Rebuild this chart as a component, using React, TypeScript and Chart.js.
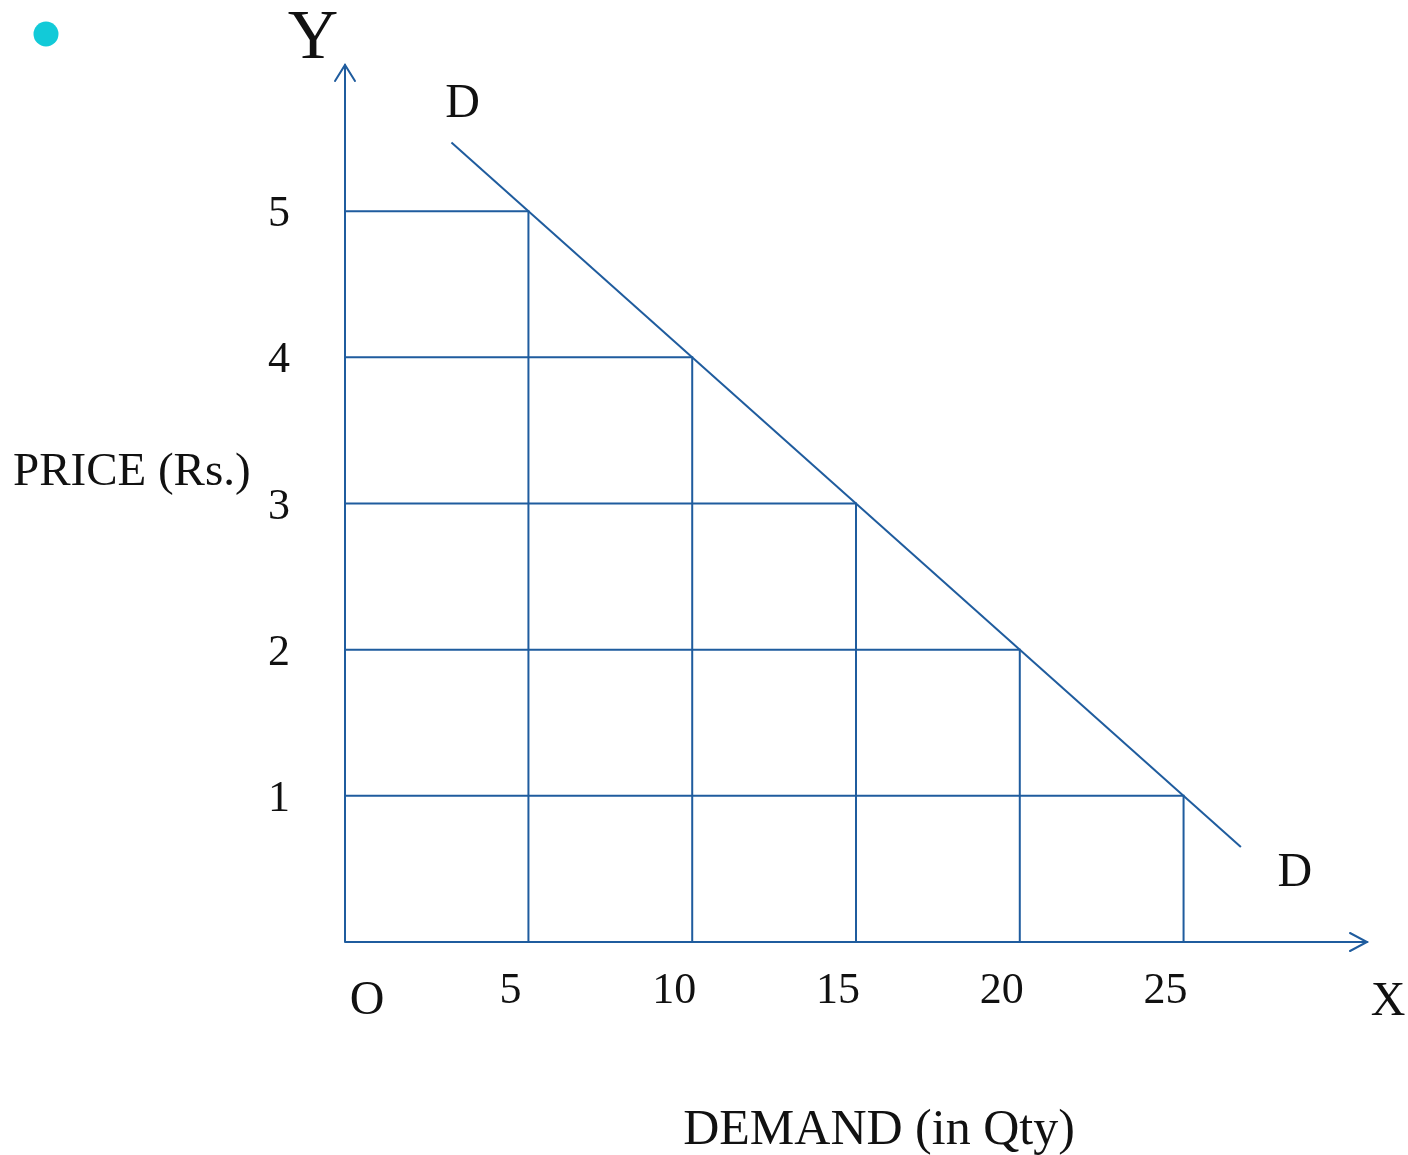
import React, { useEffect, useRef } from 'react';
import { Chart, registerables } from 'chart.js';

Chart.register(...registerables);

// Demand schedule (quantity demanded at each price)
const quantities = [5, 10, 15, 20, 25];
const prices = [5, 4, 3, 2, 1];
// Ends of the drawn demand curve D–D
const demandLineQty = [2.65, 26.75];
const demandLinePrice = [5.47, 0.65];
// Tick labels
const xTickValues = [5, 10, 15, 20, 25];
const xTickLabels = ['5', '10', '15', '20', '25'];
const yTickValues = [5, 4, 3, 2, 1];
const yTickLabels = ['5', '4', '3', '2', '1'];

const X_MIN = -0.6;
const X_MAX = 30.6;
const Y_MIN = 0;
const Y_MAX = 6;

const LINE = '#1f5c9e';
const FONT = '"Liberation Serif", "Times New Roman", serif';

const decorPlugin = {
  id: 'decor',
  beforeDraw(chart: any) {
    const { ctx, width, height } = chart;
    ctx.save();
    ctx.fillStyle = '#ffffff';
    ctx.fillRect(0, 0, width, height);
    ctx.restore();
  },
  afterDatasetsDraw(chart: any) {
    const { ctx, chartArea, scales } = chart;
    const xs = scales.x;
    const ys = scales.y;
    const ox = chartArea.left;
    const oy = ys.getPixelForValue(Y_MIN);
    const top = chartArea.top;
    const right = chartArea.right;
    ctx.save();
    ctx.strokeStyle = LINE;
    ctx.lineWidth = 2;
    ctx.lineCap = 'round';
    // axes
    ctx.beginPath();
    ctx.moveTo(ox, oy);
    ctx.lineTo(ox, top);
    ctx.moveTo(ox, oy);
    ctx.lineTo(right, oy);
    ctx.stroke();
    // arrowheads (open)
    ctx.beginPath();
    ctx.moveTo(ox - 10, top + 16);
    ctx.lineTo(ox, top);
    ctx.lineTo(ox + 10, top + 16);
    ctx.moveTo(right - 17, oy - 9);
    ctx.lineTo(right, oy);
    ctx.lineTo(right - 17, oy + 9);
    ctx.stroke();

    ctx.fillStyle = '#111111';
    ctx.textAlign = 'center';
    ctx.textBaseline = 'alphabetic';
    // y tick labels
    ctx.font = `44px ${FONT}`;
    yTickValues.forEach((v, i) => {
      const py = ys.getPixelForValue(v);
      ctx.fillText(yTickLabels[i], ox - 66, py + 15);
    });
    // x tick labels
    xTickValues.forEach((v, i) => {
      const px = xs.getPixelForValue(v);
      ctx.fillText(xTickLabels[i], px - 18, oy + 61);
    });
    // origin, axis letters, curve labels
    ctx.font = `48px ${FONT}`;
    ctx.fillText('O', ox + 22, oy + 72);
    ctx.fillText('X', right + 21, oy + 73);
    ctx.fillText('D', xs.getPixelForValue(demandLineQty[0]) + 11, 117);
    ctx.fillText('D', xs.getPixelForValue(demandLineQty[1]) + 54, ys.getPixelForValue(demandLinePrice[1]) + 39);
    ctx.font = `70px ${FONT}`;
    ctx.fillText('Y', ox - 32, 58);
    // axis titles
    ctx.font = `47px ${FONT}`;
    ctx.textAlign = 'left';
    ctx.fillText('PRICE (Rs.)', 13, 485);
    ctx.font = `50px ${FONT}`;
    ctx.textAlign = 'center';
    ctx.fillText('DEMAND (in Qty)', 879, 1144);
    // bullet
    ctx.fillStyle = '#12cad8';
    ctx.beginPath();
    ctx.arc(46, 34, 12.5, 0, Math.PI * 2);
    ctx.fill();
    ctx.restore();
  },
};

export default function App() {
  const ref = useRef<HTMLCanvasElement | null>(null);

  useEffect(() => {
    if (!ref.current) return;
    const guideSets = quantities.map((q, i) => ({
      label: `P${prices[i]}`,
      data: [
        { x: X_MIN, y: prices[i] },
        { x: q, y: prices[i] },
        { x: q, y: Y_MIN },
      ],
      showLine: true,
      borderColor: LINE,
      borderWidth: 2,
      pointRadius: 0,
      fill: false,
      tension: 0,
    }));
    const demandSet = {
      label: 'D',
      data: demandLineQty.map((q, i) => ({ x: q, y: demandLinePrice[i] })),
      showLine: true,
      borderColor: LINE,
      borderWidth: 2,
      pointRadius: 0,
      fill: false,
      tension: 0,
    };
    const chart = new Chart(ref.current, {
      type: 'scatter',
      data: { datasets: [...guideSets, demandSet] as any },
      options: {
        animation: false,
        responsive: false,
        maintainAspectRatio: false,
        devicePixelRatio: 1,
        layout: { padding: { left: 345, right: 41, top: 65, bottom: 213 } },
        plugins: {
          legend: { display: false },
          title: { display: false },
          tooltip: { enabled: false },
        },
        scales: {
          x: { type: 'linear', min: X_MIN, max: X_MAX, display: false },
          y: { type: 'linear', min: Y_MIN, max: Y_MAX, display: false },
        },
      } as any,
      plugins: [decorPlugin],
    });
    return () => chart.destroy();
  }, []);

  return (
    <div style={{ position: 'fixed', left: 0, top: 0, width: 1408, height: 1155, background: '#fff' }}>
      <canvas ref={ref} width={1408} height={1155} style={{ width: 1408, height: 1155, display: 'block' }} />
    </div>
  );
}
